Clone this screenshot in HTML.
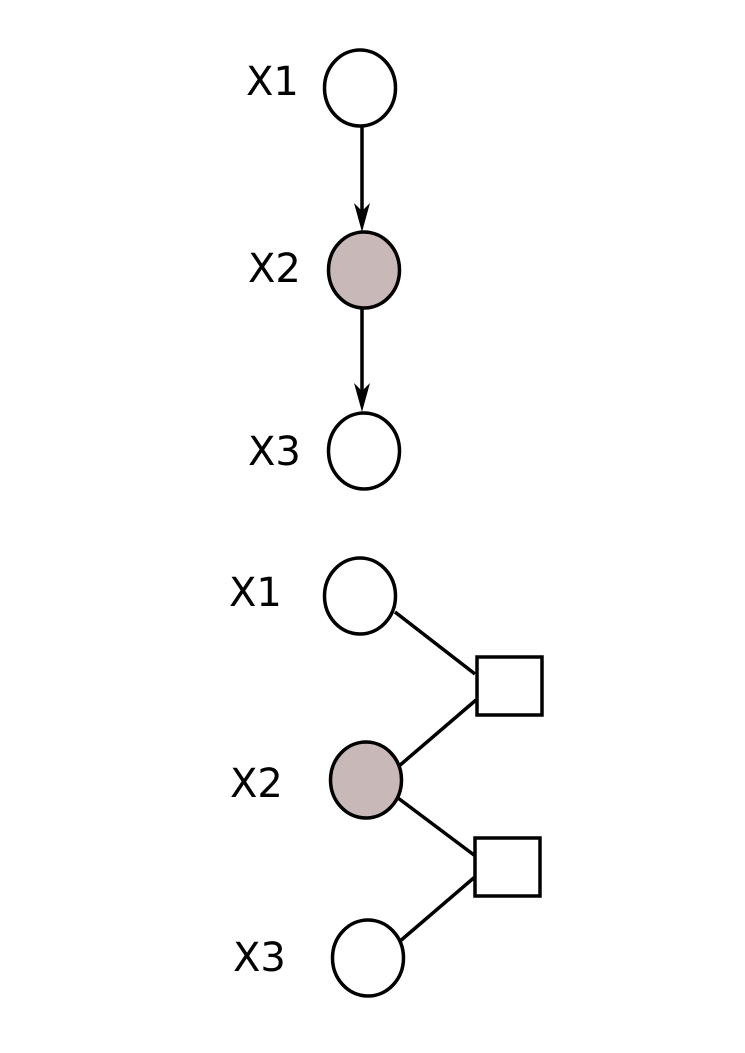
<!DOCTYPE html>
<html><head><meta charset="utf-8"><style>html,body{margin:0;padding:0;background:#fff}svg{display:block}</style></head>
<body>
<svg width="745" height="1053" viewBox="0 0 745 1053" xmlns="http://www.w3.org/2000/svg">
<g font-family="DejaVu Sans, sans-serif" font-size="40" fill="#000">
<text x="246" y="95">X1</text>
<text x="248" y="282">X2</text>
<text x="248" y="465">X3</text>
<text x="229" y="606">X1</text>
<text x="230" y="797">X2</text>
<text x="233" y="971">X3</text>
</g>
<g stroke="#000" stroke-width="3.5" fill="none">
<line x1="362" y1="127" x2="362" y2="215"/>
<line x1="362" y1="309" x2="362" y2="395"/>
<line x1="395" y1="612" x2="475" y2="674"/>
<line x1="399" y1="766" x2="476" y2="700"/>
<line x1="398" y1="798" x2="478" y2="858"/>
<line x1="399" y1="942" x2="476" y2="876"/>
</g>
<path d="M362 232 L354 203 L362 211 L370 203 Z" fill="#000"/>
<path d="M362 412 L354 383 L362 391 L370 383 Z" fill="#000"/>
<g stroke="#000" stroke-width="3.5">
<ellipse cx="360" cy="88" rx="35.5" ry="38" fill="#fff"/>
<ellipse cx="364" cy="270" rx="35.5" ry="38" fill="#c8b8b8"/>
<ellipse cx="364" cy="451" rx="35.5" ry="38" fill="#fff"/>
<ellipse cx="360" cy="596" rx="35.5" ry="38" fill="#fff"/>
<ellipse cx="366" cy="780" rx="35.5" ry="38" fill="#c8b8b8"/>
<ellipse cx="368" cy="958" rx="35.5" ry="38" fill="#fff"/>
<rect x="477" y="657" width="65" height="58" fill="#fff"/>
<rect x="475" y="838" width="65" height="58" fill="#fff"/>
</g>
</svg>
</body></html>
